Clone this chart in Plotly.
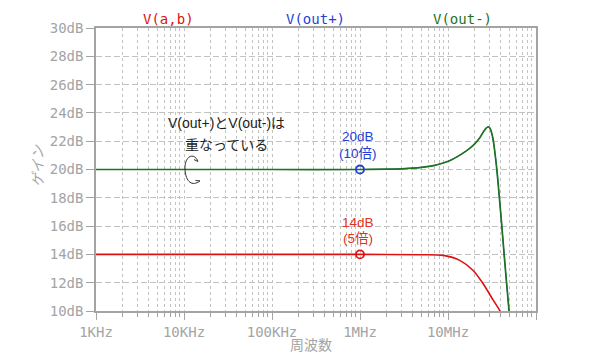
import plotly.graph_objects as go

# ---- data ----
freq_out = [1e3, 1e4, 1e5, 1e6, 2e6, 3e6, 5e6, 6.8e6, 1.04e7, 1.6e7, 2.0e7, 2.3e7, 2.55e7,
            2.72e7, 2.86e7, 3.0e7, 3.13e7, 3.26e7, 3.56e7, 3.95e7, 4.4e7, 4.94e7, 5.2e7]
gain_out_plus = [20.0, 20.0, 20.0, 20.0, 20.02, 20.05, 20.15, 20.27, 20.62, 21.3, 21.8, 22.25, 22.7,
                 22.93, 23.02, 22.92, 22.6, 22.1, 20.2, 17.1, 13.6, 10.0, 8.5]
gain_out_minus = [20.0, 20.0, 20.0, 20.0, 20.02, 20.05, 20.15, 20.27, 20.62, 21.3, 21.8, 22.25, 22.7,
                  22.93, 23.02, 22.92, 22.6, 22.1, 20.2, 17.1, 13.6, 10.0, 8.5]

freq_ab = [1e3, 1e4, 1e5, 1e6, 5e6, 8.9e6, 1.36e7, 1.92e7, 2.5e7, 3.26e7, 3.86e7, 4.2e7]
gain_ab = [14.0, 14.0, 14.0, 14.0, 13.98, 13.93, 13.58, 12.88, 11.94, 10.77, 10.05, 9.6]

marker_freq = [1e6]
marker_out = [20.0]
marker_ab = [14.0]

x_tickvals = [1e3, 1e4, 1e5, 1e6, 1e7, 1e8]
x_ticktext = ["1KHz", "10KHz", "100KHz", "1MHz", "10MHz", ""]
x_minor = [m * 10 ** d for d in range(3, 8) for m in range(2, 10)]

RED = "#dd1111"
GREEN = "#1f7320"
BLUE = "#1f3fd6"
GRAY = "#a4a4a4"
GRID = "#c2c2c2"

fig = go.Figure()
fig.add_trace(go.Scatter(x=freq_out, y=gain_out_plus, mode="lines",
                         line=dict(color=BLUE, width=1.0, shape="spline", smoothing=0.8), showlegend=False))
fig.add_trace(go.Scatter(x=freq_out, y=gain_out_minus, mode="lines",
                         line=dict(color=GREEN, width=1.7, shape="spline", smoothing=0.8), showlegend=False))
fig.add_trace(go.Scatter(x=freq_ab, y=gain_ab, mode="lines",
                         line=dict(color=RED, width=1.6, shape="spline", smoothing=0.8), showlegend=False))
fig.add_trace(go.Scatter(x=marker_freq, y=marker_out, mode="markers",
                         marker=dict(symbol="circle-open", size=8, color=BLUE, line=dict(width=1.8)),
                         showlegend=False))
fig.add_trace(go.Scatter(x=marker_freq, y=marker_ab, mode="markers",
                         marker=dict(symbol="circle-open", size=8, color=RED, line=dict(width=1.8)),
                         showlegend=False))

# plot area position in the browser window (page body has an 8px margin)
OFF = 8
L, T, W, H = 96, 26, 440, 285
FIG_W, FIG_H = 600 - OFF, 361 - OFF


def px(x):
    return (x - L) / W


def py(y):
    return (T + H - y) / H


def path(points):
    out = []
    for cmd, pts in points:
        s = cmd + " " + " ".join(f"{px(a):.4f},{py(b):.4f}" for a, b in pts)
        out.append(s)
    return " ".join(out)


arrow = path([("M", [(198, 160)]), ("C", [(193, 150), (184, 156), (185, 169)]),
              ("C", [(186, 181), (192, 186), (200, 180)])])
head1 = path([("M", [(194, 158.5)]), ("L", [(198, 160.5), (198.5, 155.5)])])
head2 = path([("M", [(195.5, 179.5)]), ("L", [(200, 180), (198, 184.5)])])
for p in (arrow, head1, head2):
    fig.add_shape(type="path", path=p, xref="paper", yref="paper",
                  line=dict(color="#333333", width=1))

mono = "DejaVu Sans Mono, monospace"
sans = "Liberation Sans, Arial, Noto Sans CJK JP, sans-serif"
ann = []
for txt, xc, col in [("V(a,b)", 168, RED), ("V(out+)", 315, BLUE), ("V(out-)", 462, GREEN)]:
    ann.append(dict(text=txt, x=px(xc), y=py(17), xref="paper", yref="paper", showarrow=False,
                    font=dict(family=mono, size=14, color=col), xanchor="center", yanchor="middle"))
ann += [
    dict(text="V(out+)とV(out-)は", x=px(226), y=py(122)),
    dict(text="重なっている", x=px(226), y=py(144)),
]
for a in ann[3:]:
    a.update(xref="paper", yref="paper", showarrow=False, xanchor="center", yanchor="middle",
             font=dict(family=sans, size=14, color="#222222"))
for txt, yc, col in [("20dB", 135, BLUE), ("(10倍)", 152, BLUE), ("14dB", 222, "#e0301e"), ("(5倍)", 238, "#e0301e")]:
    ann.append(dict(text=txt, x=px(358), y=py(yc), xref="paper", yref="paper", showarrow=False,
                    xanchor="center", yanchor="middle", font=dict(family=sans, size=13.5, color=col)))
ann.append(dict(text="<i>ゲイン</i>", x=px(37), y=py(165), xref="paper", yref="paper", showarrow=False,
                textangle=-90, xanchor="center", yanchor="middle",
                font=dict(family="Noto Sans CJK JP", size=14, color=GRAY)))
ann.append(dict(text="周波数", x=px(311), y=py(344), xref="paper", yref="paper", showarrow=False,
                xanchor="center", yanchor="middle",
                font=dict(family="Noto Sans CJK JP", size=14, color=GRAY)))

fig.update_layout(
    width=FIG_W, height=FIG_H,
    margin=dict(l=L - OFF, r=FIG_W - (L - OFF) - W, t=T - OFF, b=FIG_H - (T - OFF) - H),
    plot_bgcolor="white", paper_bgcolor="white",
    annotations=ann,
    showlegend=False,
)
fig.update_xaxes(
    type="log", range=[3, 8],
    tickmode="array", tickvals=x_tickvals, ticktext=x_ticktext,
    ticks="outside", ticklen=7, tickcolor=GRAY, tickwidth=1,
    showline=True, linecolor=GRAY, linewidth=1.5, mirror=True,
    showgrid=True, gridcolor=GRID, griddash="3px,3px", gridwidth=1,
    tickfont=dict(family=mono, size=14, color=GRAY),
    minor=dict(tickmode="array", tickvals=x_minor, ticks="outside", ticklen=4, tickcolor=GRAY,
               showgrid=True, gridcolor=GRID, griddash="3px,3px", gridwidth=1),
    zeroline=False,
)
fig.update_yaxes(
    range=[10, 30], dtick=2, tick0=10, ticksuffix="dB",
    ticks="outside", ticklen=8, tickcolor=GRAY, tickwidth=1,
    showline=True, linecolor=GRAY, linewidth=1.5, mirror=True,
    showgrid=True, gridcolor=GRID, griddash="6px,3px", gridwidth=1,
    tickfont=dict(family=mono, size=14, color=GRAY),
    zeroline=False,
)

fig.write_html("out.html")
